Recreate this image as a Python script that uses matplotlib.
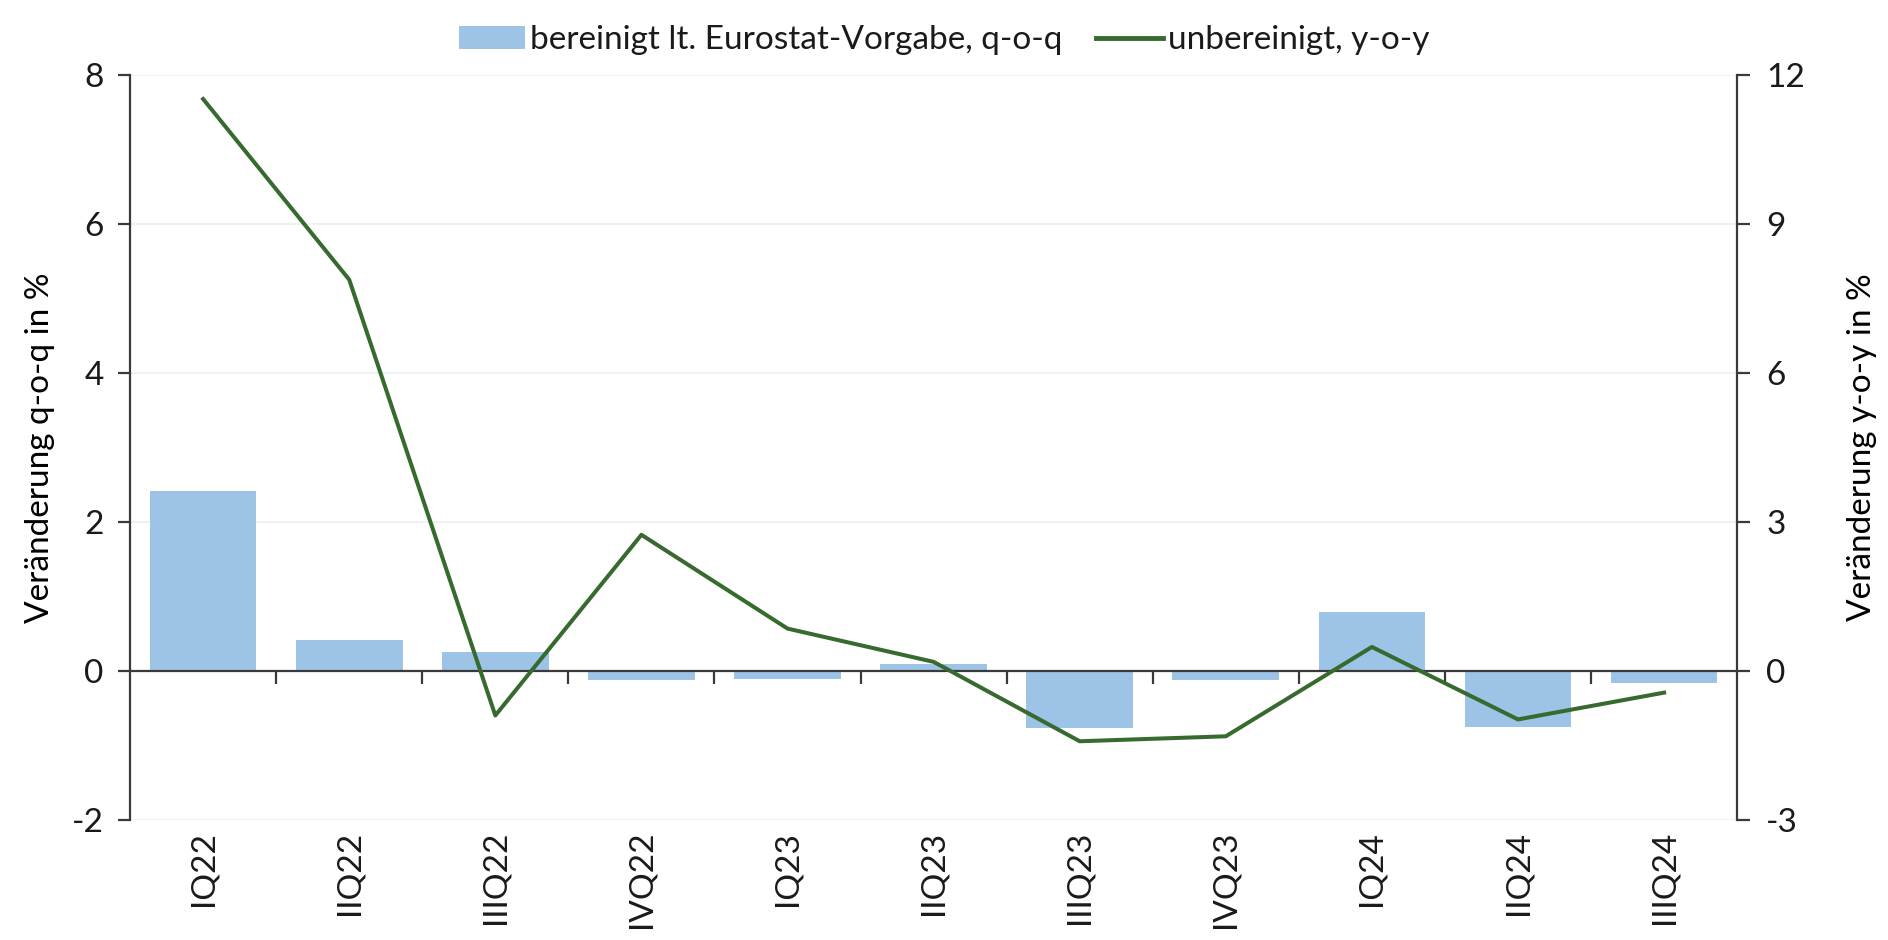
import matplotlib

matplotlib.use("Agg")

import matplotlib.pyplot as plt
import numpy as np
from matplotlib.lines import Line2D
from matplotlib.patches import Patch


QUARTERS = ["IQ22", "IIQ22", "IIIQ22", "IVQ22", "IQ23", "IIQ23",
            "IIIQ23", "IVQ23", "IQ24", "IIQ24", "IIIQ24"]
QOQ_ADJUSTED = [2.42, 0.41, 0.25, -0.12, -0.11, 0.09, -0.77, -0.12, 0.79, -0.75, -0.17]
YOY_UNADJUSTED = [11.52, 7.88, -0.90, 2.74, 0.85, 0.18, -1.42, -1.32, 0.48, -0.98, -0.44]

LEFT_TICKS = [-2, 0, 2, 4, 6, 8]
RIGHT_TICKS = [-3, 0, 3, 6, 9, 12]

BAR_COLOR = "#9DC3E6"
LINE_COLOR = "#376A2E"
AXIS_COLOR = "#3A3A3A"
TEXT_COLOR = "#1A1A1A"
GRID_COLOR = "#EEF2F2"
FONT_SIZE = 24

plt.rcParams["font.family"] = ["Lato", "DejaVu Sans"]
plt.rcParams["text.color"] = TEXT_COLOR
plt.rcParams["xtick.color"] = AXIS_COLOR
plt.rcParams["ytick.color"] = AXIS_COLOR
plt.rcParams["xtick.labelcolor"] = TEXT_COLOR
plt.rcParams["ytick.labelcolor"] = TEXT_COLOR

x = np.arange(len(QUARTERS))

fig = plt.figure(figsize=(18.88, 9.4), dpi=100)
ax = fig.add_axes([0.0689, 0.128, 0.9201 - 0.0689, 0.920 - 0.128])
ax2 = ax.twinx()

ax.bar(x, QOQ_ADJUSTED, width=0.73, color=BAR_COLOR, zorder=2)
ax2.plot(x, YOY_UNADJUSTED, color=LINE_COLOR, linewidth=2.9, zorder=3)

ax.set_xlim(-0.5, len(QUARTERS) - 0.5)
ax.set_ylim(-2, 8)
ax2.set_ylim(-3, 12)
ax.set_yticks(LEFT_TICKS)
ax.set_yticklabels([str(v) for v in LEFT_TICKS])
ax2.set_yticks(RIGHT_TICKS)
ax2.set_yticklabels([str(v) for v in RIGHT_TICKS])

# light horizontal gridlines at left ticks
for v in LEFT_TICKS:
    if v != 0:
        ax.axhline(v, color=GRID_COLOR, linewidth=1.5, zorder=0)

# category axis sits on the zero line, ticks at category boundaries
ax.spines["top"].set_visible(False)
ax2.spines["top"].set_visible(False)
ax2.spines["bottom"].set_visible(False)
ax2.spines["left"].set_visible(False)
ax.spines["right"].set_visible(False)
ax.spines["bottom"].set_position(("data", 0))
ax.spines["bottom"].set_color(AXIS_COLOR)
ax.spines["bottom"].set_linewidth(1.6)
ax.spines["bottom"].set_zorder(4)
ax.spines["left"].set_color(AXIS_COLOR)
ax.spines["left"].set_linewidth(1.6)
ax2.spines["right"].set_color(AXIS_COLOR)
ax2.spines["right"].set_linewidth(1.6)

ax.set_xticks([])
ax.set_xticks(x[:-1] + 0.5, minor=True)
ax.tick_params(axis="x", which="minor", direction="out", length=9, width=1.6)
ax.tick_params(axis="y", direction="out", length=9, width=1.6,
               labelsize=FONT_SIZE, pad=10)
ax2.tick_params(axis="y", direction="out", length=9, width=1.6,
                labelsize=FONT_SIZE, pad=12)

sec = ax.secondary_xaxis("bottom")
sec.set_xticks(x)
sec.set_xticklabels(QUARTERS, rotation=90, fontsize=FONT_SIZE)
sec.tick_params(length=0, pad=8)
sec.spines["bottom"].set_visible(False)

ax.set_ylabel("Veränderung q-o-q in %", fontsize=FONT_SIZE, labelpad=12)
ax2.set_ylabel("Veränderung y-o-y in %", fontsize=FONT_SIZE, labelpad=30)

handles = [
    Patch(facecolor=BAR_COLOR, edgecolor="none"),
    Line2D([0], [0], color=LINE_COLOR, linewidth=3.5),
]
labels = ["bereinigt lt. Eurostat-Vorgabe, q-o-q", "unbereinigt, y-o-y"]
fig.legend(handles, labels, loc="upper center", bbox_to_anchor=(0.5, 1.005),
           ncol=2, frameon=False, fontsize=FONT_SIZE, handlelength=2.0,
           handletextpad=0.15, columnspacing=1.0)

ax.set_zorder(ax2.get_zorder() - 1)
ax.patch.set_visible(False)

fig.savefig("out.png", dpi=100)
plt.close(fig)
